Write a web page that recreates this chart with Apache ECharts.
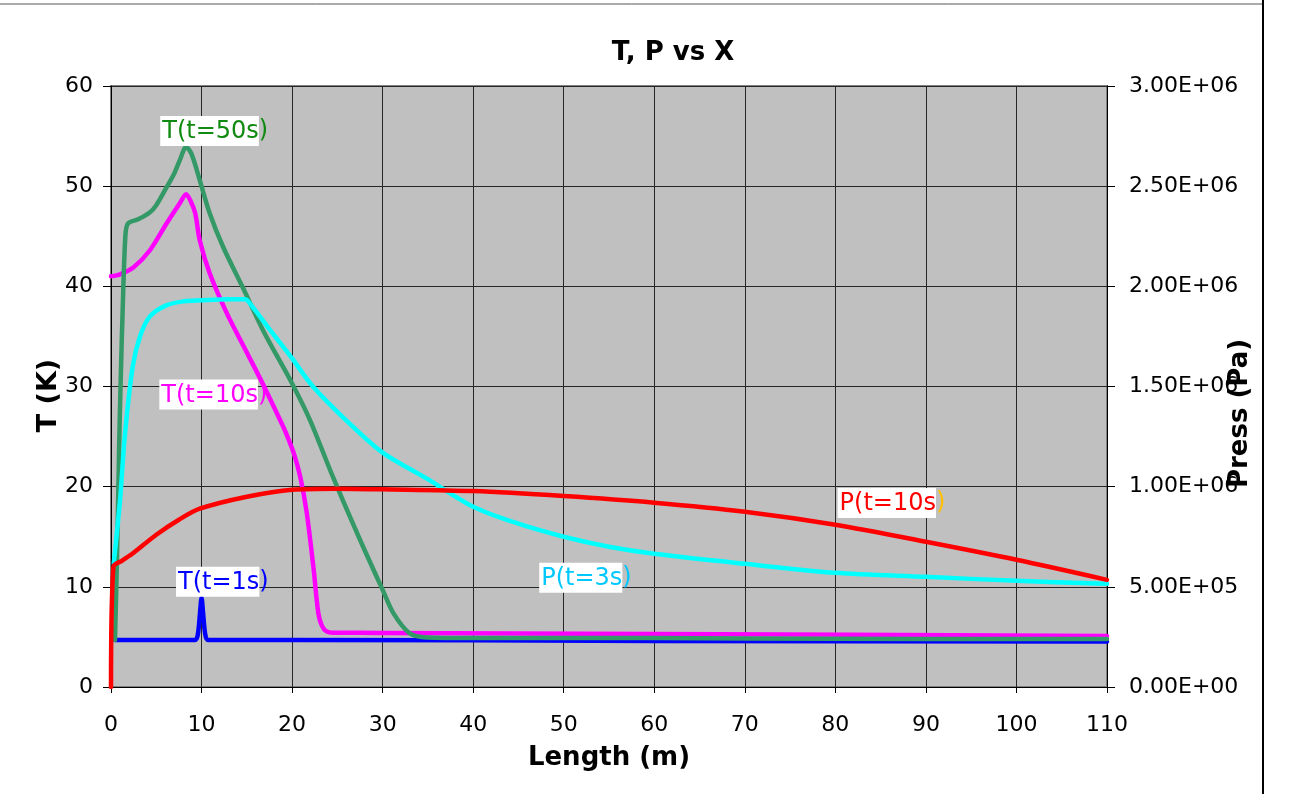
<!DOCTYPE html>
<html>
<head>
<meta charset="utf-8">
<title>T, P vs X</title>
<script src="https://cdn.jsdelivr.net/npm/echarts@6/dist/echarts.min.js"></script>
<style>
  html, body { margin: 0; padding: 0; background: #fff; }
  #chart { width: 1295px; height: 794px; }
</style>
</head>
<body>
<div id="chart"></div>
<script>
// Temperature profiles along the line (K)
const xT1  = [0.44, 5, 9.3, 9.6, 9.85, 10, 10.15, 10.4, 10.7, 20, 60, 110];
const yT1  = [4.7, 4.7, 4.7, 5.3, 7.6, 8.9, 7.6, 5.3, 4.7, 4.7, 4.6, 4.55];

const xT10 = [0, 1, 2.5, 4.3, 6.15, 7.6, 8.3, 8.8, 9.3, 9.8, 10.9, 12.8, 15, 16.8, 18.7, 19.4, 20.2, 20.9, 21.6, 22.35, 22.9, 23.3, 23.8, 24.5, 30, 60, 110];
const yT10 = [41.0, 41.2, 41.9, 43.6, 46.3, 48.3, 49.2, 48.5, 47.3, 44.6, 41.3, 37.3, 33.4, 30.2, 26.6, 25.2, 23.3, 21.0, 17.5, 12.0, 7.35, 6.1, 5.55, 5.42, 5.4, 5.3, 5.1];

const xT50 = [0.44, 0.66, 0.9, 1.07, 1.3, 1.6, 1.9, 3, 4.3, 5, 6.15, 7, 7.6, 8.3, 8.9, 9.8, 10.9, 12.4, 14.6, 16.8, 20, 22, 24.5, 27.5, 30, 31.2, 33, 34.9, 40, 50, 70, 90, 110];
const yT50 = [4.7, 12.7, 24, 30.6, 38, 45.2, 46.3, 46.7, 47.4, 48.1, 49.9, 51.3, 52.6, 53.9, 53.2, 50.6, 47.3, 43.9, 39.8, 35.6, 30.3, 26.6, 21.0, 14.7, 9.7, 7.35, 5.35, 4.95, 4.9, 4.9, 4.85, 4.8, 4.8];

// Pressure profiles along the line (Pa)
const xP3  = [0.3, 1.0, 1.55, 2.4, 3.2, 4.3, 6.1, 8, 10, 13.1, 14.8, 15.5, 17.6, 20, 22.3, 26, 30, 34.9, 40, 45, 50, 55, 60, 70, 80, 90, 100, 110];
const yP3  = [6.15e5, 9.35e5, 1.265e6, 1.6e6, 1.75e6, 1.85e6, 1.905e6, 1.925e6, 1.93e6, 1.935e6, 1.935e6, 1.905e6, 1.78e6, 1.64e6, 1.5e6, 1.33e6, 1.17e6, 1.04e6, 9.0e5, 8.15e5, 7.5e5, 7.0e5, 6.65e5, 6.15e5, 5.7e5, 5.5e5, 5.3e5, 5.15e5];

const xP10 = [0, 0.26, 1.2, 2.5, 5, 7.5, 9.8, 15, 20, 25, 30, 40, 50, 60, 70, 80, 90, 100, 110];
const yP10 = [0, 6.0e5, 6.3e5, 6.7e5, 7.6e5, 8.35e5, 8.9e5, 9.5e5, 9.85e5, 9.9e5, 9.87e5, 9.78e5, 9.53e5, 9.2e5, 8.75e5, 8.1e5, 7.25e5, 6.35e5, 5.35e5];

// Axis ranges
const xTicks = { min: 0, max: 110, step: 10 };
const tTicks = { min: 0, max: 60, step: 10 };
const pTicks = { min: 0, max: 3.0e6, step: 5.0e5 };

const zip = (xs, ys) => xs.map((x, i) => [x, ys[i]]);

function sci(v) {
  if (v === 0) return '0.00E+00';
  const e = Math.floor(Math.log10(Math.abs(v)) + 1e-9);
  const m = v / Math.pow(10, e);
  return m.toFixed(2) + 'E+' + String(e).padStart(2, '0');
}

const FONT = 'DejaVu Sans';

// Curve annotation: text on a white box, closing bracket left outside it
function tag(text, color, coord, closeColor) {
  return {
    symbol: 'circle',
    symbolSize: 0,
    silent: true,
    itemStyle: { color: 'transparent' },
    label: {
      show: true,
      position: 'inside',
      formatter: '{w|' + text + '}{c|)}',
      rich: {
        w: { color: color, fontFamily: FONT, fontSize: 24, backgroundColor: '#ffffff', padding: [4, 0, 2, 2] },
        c: { color: closeColor || color, fontFamily: FONT, fontSize: 24 }
      }
    },
    data: [{ coord: coord }]
  };
}

function line(name, data, color, yAxisIndex, mark) {
  return {
    name: name,
    type: 'line',
    yAxisIndex: yAxisIndex,
    data: data,
    showSymbol: false,
    smooth: 0.3,
    lineStyle: { color: color, width: 4.5, join: 'round', cap: 'round' },
    itemStyle: { color: color },
    markPoint: mark,
    animation: false
  };
}

const chart = echarts.init(document.getElementById('chart'), null, { renderer: 'canvas' });

chart.setOption({
  backgroundColor: '#ffffff',
  animation: false,
  title: {
    text: 'T, P vs X',
    left: 668,
    top: 35,
    textAlign: 'center',
    textStyle: { fontFamily: FONT, fontWeight: 'bold', fontSize: 26, color: '#000' }
  },
  graphic: [
    { type: 'line', shape: { x1: 0, y1: 4, x2: 1263, y2: 4 }, style: { stroke: '#555', lineWidth: 1 } },
    { type: 'line', shape: { x1: 1263, y1: 0, x2: 1263, y2: 794 }, style: { stroke: '#000', lineWidth: 2 } }
  ],
  grid: {
    left: 111, right: 188, top: 86, bottom: 107,
    show: true,
    backgroundColor: '#c0c0c0',
    borderColor: '#808080',
    borderWidth: 2
  },
  xAxis: {
    type: 'value',
    min: xTicks.min, max: xTicks.max, interval: xTicks.step,
    name: 'Length (m)',
    nameLocation: 'middle',
    nameGap: 58,
    nameMoveOverlap: false,
    nameTextStyle: { fontFamily: FONT, fontWeight: 'bold', fontSize: 26, color: '#000' },
    axisLine: { show: true, onZero: false, lineStyle: { color: '#000', width: 1 } },
    axisTick: { show: true, inside: false, length: 6, lineStyle: { color: '#000' } },
    axisLabel: { fontFamily: FONT, fontSize: 22, color: '#000', margin: 27 },
    splitLine: { show: true, lineStyle: { color: '#262626', width: 1 } }
  },
  yAxis: [
    {
      type: 'value',
      position: 'left',
      min: tTicks.min, max: tTicks.max, interval: tTicks.step,
      name: 'T (K)',
      nameLocation: 'middle',
      nameGap: 49,
      nameRotate: 90,
      nameMoveOverlap: false,
      nameTextStyle: { fontFamily: FONT, fontWeight: 'bold', fontSize: 27, color: '#000', padding: [0, 18, 0, 0] },
      axisLine: { show: true, lineStyle: { color: '#000', width: 1 } },
      axisTick: { show: true, inside: false, length: 8, lineStyle: { color: '#000' } },
      axisLabel: { fontFamily: FONT, fontSize: 22, color: '#000', margin: 18 },
      splitLine: { show: true, lineStyle: { color: '#262626', width: 1 } }
    },
    {
      type: 'value',
      position: 'right',
      min: pTicks.min, max: pTicks.max, interval: pTicks.step,
      name: 'Press (Pa)',
      nameLocation: 'middle',
      nameGap: 120,
      nameRotate: 90,
      nameMoveOverlap: false,
      nameTextStyle: { fontFamily: FONT, fontWeight: 'bold', fontSize: 26, color: '#000', padding: [0, 54, 0, 0] },
      axisLine: { show: true, lineStyle: { color: '#000', width: 1 } },
      axisTick: { show: true, inside: false, length: 8, lineStyle: { color: '#000' } },
      axisLabel: { fontFamily: FONT, fontSize: 22, color: '#000', margin: 22, formatter: sci },
      splitLine: { show: false }
    }
  ],
  series: [
    line('T(t=1s)',  zip(xT1, yT1),   '#0000ff', 0, tag('T(t=1s',  '#0000ff', [12.3, 10.5])),
    line('T(t=10s)', zip(xT10, yT10), '#ff00ff', 0, tag('T(t=10s', '#ff00ff', [11.3, 29.2])),
    line('T(t=50s)', zip(xT50, yT50), '#339966', 0, tag('T(t=50s', '#108a10', [11.4, 55.5])),
    line('P(t=3s)',  zip(xP3, yP3),   '#00ffff', 1, tag('P(t=3s',  '#00c8ff', [52.4, 5.45e5])),
    line('P(t=10s)', zip(xP10, yP10), '#ff0000', 1, tag('P(t=10s', '#ff0000', [86.2, 9.18e5], '#ffc000'))
  ]
});
</script>
</body>
</html>
